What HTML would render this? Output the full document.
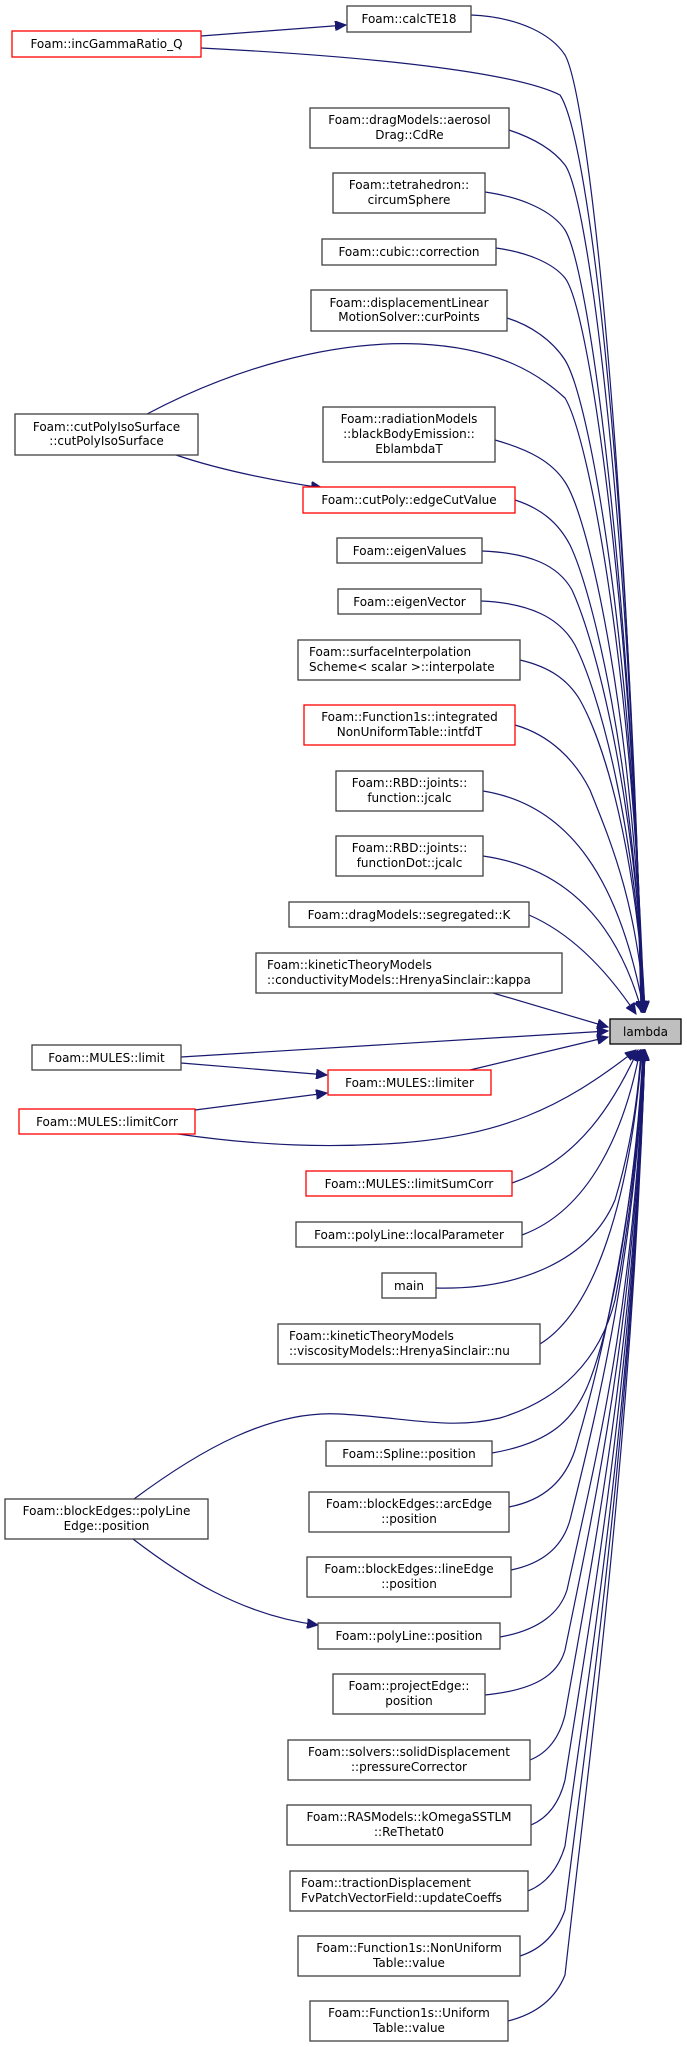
<!DOCTYPE html>
<html><head><meta charset="utf-8"><style>
html,body{margin:0;padding:0;background:#fff;}
svg{display:block;}
text{font-family:"DejaVu Sans","Liberation Sans",sans-serif;font-size:12px;fill:#000;}
.n{fill:#fff;stroke:#404040;stroke-width:1.3;}
.r{fill:#fff;stroke:#ff0000;stroke-width:1.3;}
.e{fill:none;stroke:#191970;stroke-width:1.2;}
</style></head><body>
<svg width="687" height="2047" viewBox="0 0 687 2047" xmlns="http://www.w3.org/2000/svg">
<defs>
<marker id="a" markerUnits="userSpaceOnUse" markerWidth="12" markerHeight="10" refX="11" refY="5" orient="auto">
<path d="M0,0 L11,5 L0,10 z" fill="#191970" stroke="#191970"/></marker>
</defs>

<!-- edges to lambda (from above) -->
<g class="e" marker-end="url(#a)">
<path d="M471,15 C520,17 552,35 565,55 C590,100 630,500 641,1012"/>
<path d="M201,48 C400,58 520,75 560,95 C590,140 630,500 642,1012"/>
<path d="M509,130 C530,137 552,148 565,165 C590,200 632,550 642,1012"/>
<path d="M485,192 C520,197 552,210 565,230 C590,270 632,600 643,1012"/>
<path d="M496,248 C525,252 552,262 565,278 C590,310 633,620 643,1012"/>
<path d="M507,318 C530,325 552,340 565,360 C590,400 634,650 643,1012"/>
<path d="M147,414 C230,370 330,340 420,344 C500,348 540,375 565,398 C590,440 634,680 644,1012"/>
<path d="M495,440 C530,450 552,462 565,482 C590,520 634,720 644,1012"/>
<path d="M515,500 C540,508 558,522 570,545 C592,590 634,760 644,1012"/>
<path d="M482,551 C530,553 558,565 572,590 C595,640 635,790 645,1012"/>
<path d="M481,601 C530,603 560,618 575,645 C598,690 635,820 645,1012"/>
<path d="M520,660 C550,667 568,680 580,700 C605,745 636,850 645,1012"/>
<path d="M515,725 C550,735 575,760 590,790 C610,840 636,900 645,1012"/>
<path d="M483,791 C570,805 620,880 644,1012"/>
<path d="M483,856 C580,870 622,940 642,1012"/>
<path d="M529,915 C575,935 610,975 636,1014"/>
<path d="M493,993 L608,1027"/>
<path d="M181,1057 L608,1031"/>
<path d="M470,1070 L608,1037"/>
</g>
<!-- edges to lambda (from below) -->
<g class="e" marker-end="url(#a)">
<path d="M178,1134 C260,1146 330,1148 400,1143 C500,1135 560,1110 636,1050"/>
<path d="M512,1183 C580,1160 615,1100 638,1050"/>
<path d="M522,1235 C590,1210 625,1130 640,1050"/>
<path d="M436,1288 C520,1290 590,1260 615,1200 C630,1150 638,1100 641,1050"/>
<path d="M540,1344 C595,1310 630,1200 642,1050"/>
<path d="M134,1499 C200,1450 270,1410 340,1414 C410,1418 450,1430 500,1418 C560,1400 600,1360 615,1300 C632,1210 640,1120 643,1050"/>
<path d="M492,1453 C550,1443 575,1420 590,1380 C620,1300 638,1150 643,1050"/>
<path d="M509,1507 C545,1500 565,1480 575,1450 C605,1350 636,1200 644,1050"/>
<path d="M511,1570 C545,1563 563,1545 570,1520 C600,1400 635,1250 644,1050"/>
<path d="M500,1637 C540,1630 560,1612 567,1590 C598,1450 635,1300 644,1050"/>
<path d="M485,1695 C535,1690 558,1675 565,1650 C596,1500 634,1320 645,1050"/>
<path d="M530,1760 C550,1752 560,1735 565,1715 C594,1550 634,1350 645,1050"/>
<path d="M531,1825 C550,1817 560,1800 565,1780 C593,1600 633,1380 645,1050"/>
<path d="M528,1891 C548,1883 559,1866 565,1846 C592,1650 633,1400 645,1050"/>
<path d="M520,1956 C545,1948 558,1930 565,1910 C591,1700 632,1420 645,1050"/>
<path d="M508,2021 C540,2013 557,1995 565,1975 C590,1750 632,1440 645,1050"/>
</g>
<!-- other edges -->
<g class="e" marker-end="url(#a)">
<path d="M201,36 L346,25"/>
<path d="M176,455 C220,470 270,480 322,488"/>
<path d="M181,1063 L327,1075"/>
<path d="M195,1110 L327,1093"/>
<path d="M133,1539 C180,1575 240,1615 318,1625"/>
</g>

<!-- lambda -->
<rect x="610" y="1019" width="71" height="25" fill="#bfbfbf" stroke="#000" stroke-width="1.3"/>
<text x="645.5" y="1036" text-anchor="middle">lambda</text>

<!-- nodes -->
<g text-anchor="middle">
<rect class="n" x="347" y="6" width="124" height="26"/><text x="409" y="23">Foam::calcTE18</text>
<rect class="r" x="12" y="31" width="189" height="26"/><text x="106.5" y="48">Foam::incGammaRatio_Q</text>
<rect class="n" x="310" y="108" width="199" height="40"/><text x="409.5" y="124">Foam::dragModels::aerosol</text><text x="409.5" y="139">Drag::CdRe</text>
<rect class="n" x="333" y="173" width="152" height="40"/><text x="409" y="189">Foam::tetrahedron::</text><text x="409" y="204">circumSphere</text>
<rect class="n" x="322" y="239" width="174" height="26"/><text x="409" y="256">Foam::cubic::correction</text>
<rect class="n" x="311" y="290" width="196" height="41"/><text x="409" y="307">Foam::displacementLinear</text><text x="409" y="321">MotionSolver::curPoints</text>
<rect class="n" x="15" y="414" width="183" height="41"/><text x="106.5" y="431">Foam::cutPolyIsoSurface</text><text x="106.5" y="445">::cutPolyIsoSurface</text>
<rect class="n" x="323" y="407" width="172" height="55"/><text x="409" y="423">Foam::radiationModels</text><text x="409" y="438">::blackBodyEmission::</text><text x="409" y="453">EblambdaT</text>
<rect class="r" x="303" y="487" width="212" height="26"/><text x="409" y="504">Foam::cutPoly::edgeCutValue</text>
<rect class="n" x="337" y="538" width="145" height="25"/><text x="409.5" y="555">Foam::eigenValues</text>
<rect class="n" x="338" y="589" width="143" height="25"/><text x="409.5" y="606">Foam::eigenVector</text>
<rect class="n" x="298" y="640" width="222" height="40"/>
<rect class="r" x="304" y="705" width="211" height="40"/><text x="409.5" y="721">Foam::Function1s::integrated</text><text x="409.5" y="736">NonUniformTable::intfdT</text>
<rect class="n" x="336" y="771" width="147" height="40"/><text x="409.5" y="787">Foam::RBD::joints::</text><text x="409.5" y="802">function::jcalc</text>
<rect class="n" x="336" y="836" width="147" height="40"/><text x="409.5" y="852">Foam::RBD::joints::</text><text x="409.5" y="867">functionDot::jcalc</text>
<rect class="n" x="289" y="902" width="240" height="25"/><text x="409" y="919">Foam::dragModels::segregated::K</text>
<rect class="n" x="256" y="953" width="306" height="40"/>
<rect class="n" x="32" y="1045" width="149" height="25"/><text x="106.5" y="1062">Foam::MULES::limit</text>
<rect class="r" x="328" y="1070" width="163" height="25"/><text x="409.5" y="1087">Foam::MULES::limiter</text>
<rect class="r" x="19" y="1109" width="176" height="25"/><text x="107" y="1126">Foam::MULES::limitCorr</text>
<rect class="r" x="306" y="1171" width="206" height="25"/><text x="409" y="1188">Foam::MULES::limitSumCorr</text>
<rect class="n" x="296" y="1222" width="226" height="25"/><text x="409" y="1239">Foam::polyLine::localParameter</text>
<rect class="n" x="382" y="1273" width="54" height="25"/><text x="409" y="1290">main</text>
<rect class="n" x="278" y="1324" width="262" height="40"/>
<rect class="n" x="326" y="1441" width="166" height="25"/><text x="409" y="1458">Foam::Spline::position</text>
<rect class="n" x="309" y="1492" width="200" height="40"/><text x="409" y="1508">Foam::blockEdges::arcEdge</text><text x="409" y="1523">::position</text>
<rect class="n" x="5" y="1499" width="203" height="40"/><text x="106.5" y="1515">Foam::blockEdges::polyLine</text><text x="106.5" y="1530">Edge::position</text>
<rect class="n" x="307" y="1557" width="204" height="40"/><text x="409" y="1573">Foam::blockEdges::lineEdge</text><text x="409" y="1588">::position</text>
<rect class="n" x="318" y="1623" width="182" height="26"/><text x="409" y="1640">Foam::polyLine::position</text>
<rect class="n" x="333" y="1674" width="152" height="40"/><text x="409" y="1690">Foam::projectEdge::</text><text x="409" y="1705">position</text>
<rect class="n" x="288" y="1740" width="242" height="40"/><text x="409" y="1756">Foam::solvers::solidDisplacement</text><text x="409" y="1771">::pressureCorrector</text>
<rect class="n" x="287" y="1805" width="244" height="40"/><text x="409" y="1821">Foam::RASModels::kOmegaSSTLM</text><text x="409" y="1836">::ReThetat0</text>
<rect class="n" x="290" y="1871" width="238" height="40"/>
<rect class="n" x="298" y="1936" width="222" height="40"/><text x="409" y="1952">Foam::Function1s::NonUniform</text><text x="409" y="1967">Table::value</text>
<rect class="n" x="310" y="2001" width="198" height="40"/><text x="409" y="2017">Foam::Function1s::Uniform</text><text x="409" y="2032">Table::value</text>
</g>
<!-- left-aligned labels -->
<g>
<text x="309" y="656">Foam::surfaceInterpolation</text><text x="309" y="671">Scheme&lt; scalar &gt;::interpolate</text>
<text x="267" y="969">Foam::kineticTheoryModels</text><text x="267" y="984">::conductivityModels::HrenyaSinclair::kappa</text>
<text x="289" y="1340">Foam::kineticTheoryModels</text><text x="289" y="1355">::viscosityModels::HrenyaSinclair::nu</text>
<text x="301" y="1887">Foam::tractionDisplacement</text><text x="301" y="1902">FvPatchVectorField::updateCoeffs</text>
</g>
</svg>
</body></html>
